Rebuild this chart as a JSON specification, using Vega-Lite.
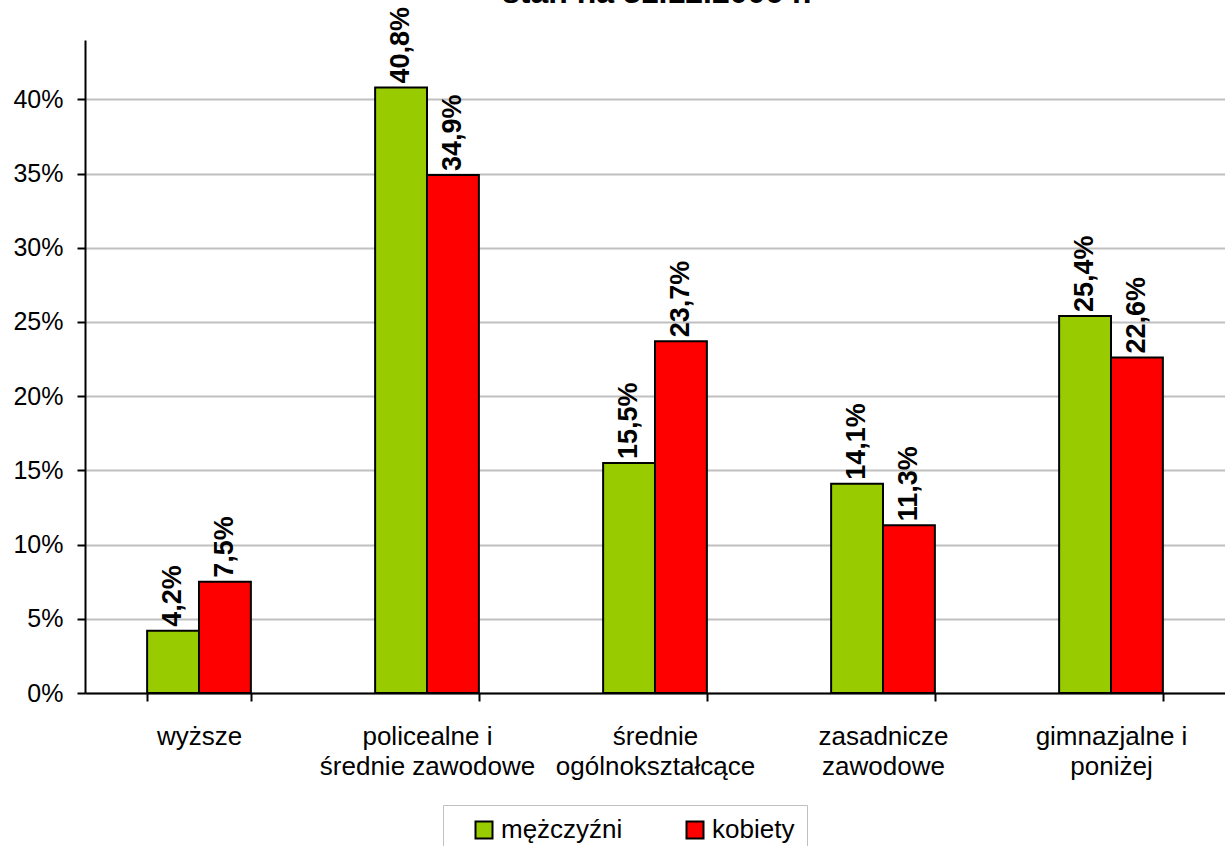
{
  "$schema": "https://vega.github.io/schema/vega-lite/v6.json",
  "width": 1140,
  "height": 653,
  "autosize": {"type": "none"},
  "padding": {"left": 85, "top": 40, "right": 0, "bottom": 153},
  "background": "white",
  "title": {
    "text": "- stan na 31.12.2006 r.",
    "font": "Liberation Sans",
    "fontSize": 32,
    "fontWeight": "bold",
    "color": "black",
    "anchor": "middle",
    "frame": "group",
    "baseline": "alphabetic",
    "offset": 0,
    "dy": 28,
    "dx": -8
  },
  "config": {
    "view": {"stroke": null},
    "font": "Liberation Sans",
    "locale": {"number": {"decimal": ",", "thousands": " ", "grouping": [3], "currency": ["", " zł"]}}
  },
  "data": {
    "values": [
      {"wyksztalcenie": "wyższe", "plec": "mężczyźni", "udzial": 0.042},
      {"wyksztalcenie": "wyższe", "plec": "kobiety", "udzial": 0.075},
      {"wyksztalcenie": "policealne i\nśrednie zawodowe", "plec": "mężczyźni", "udzial": 0.408},
      {"wyksztalcenie": "policealne i\nśrednie zawodowe", "plec": "kobiety", "udzial": 0.349},
      {"wyksztalcenie": "średnie\nogólnokształcące", "plec": "mężczyźni", "udzial": 0.155},
      {"wyksztalcenie": "średnie\nogólnokształcące", "plec": "kobiety", "udzial": 0.237},
      {"wyksztalcenie": "zasadnicze\nzawodowe", "plec": "mężczyźni", "udzial": 0.141},
      {"wyksztalcenie": "zasadnicze\nzawodowe", "plec": "kobiety", "udzial": 0.113},
      {"wyksztalcenie": "gimnazjalne i\nponiżej", "plec": "mężczyźni", "udzial": 0.254},
      {"wyksztalcenie": "gimnazjalne i\nponiżej", "plec": "kobiety", "udzial": 0.226}
    ]
  },
  "encoding": {
    "x": {
      "field": "wyksztalcenie",
      "type": "nominal",
      "sort": null,
      "scale": {"paddingInner": 0.545, "paddingOuter": 0.2725},
      "axis": {
        "title": null,
        "labelAngle": 0,
        "labelFontSize": 26,
        "labelColor": "black",
        "labelExpr": "split(datum.label, '\\n')",
        "labelLineHeight": 30,
        "labelPadding": 35,
        "labelBaseline": "middle",
        "labelLimit": 0,
        "tickBand": "extent",
        "tickSize": 8,
        "tickWidth": 2,
        "tickColor": "black",
        "domainColor": "black",
        "domainWidth": 2,
        "grid": false
      }
    },
    "xOffset": {
      "field": "plec",
      "type": "nominal",
      "sort": ["mężczyźni", "kobiety"],
      "scale": {"paddingInner": 0, "paddingOuter": 0}
    },
    "y": {
      "field": "udzial",
      "type": "quantitative",
      "scale": {"domain": [0, 0.44], "nice": false},
      "axis": {
        "title": null,
        "format": ".0%",
        "values": [0, 0.05, 0.1, 0.15, 0.2, 0.25, 0.3, 0.35, 0.4],
        "labelFontSize": 25,
        "labelColor": "black",
        "labelPadding": 14,
        "tickSize": 8,
        "tickWidth": 2,
        "tickColor": "black",
        "domainColor": "black",
        "domainWidth": 2,
        "gridColor": "#c0c0c0",
        "gridWidth": 2
      }
    }
  },
  "layer": [
    {
      "mark": {"type": "bar", "stroke": "black", "strokeWidth": 2},
      "encoding": {
        "color": {
          "field": "plec",
          "type": "nominal",
          "sort": ["mężczyźni", "kobiety"],
          "scale": {"domain": ["mężczyźni", "kobiety"], "range": ["#99cc00", "#ff0000"]},
          "legend": {
            "title": null,
            "orient": "none",
            "legendX": 358,
            "legendY": 765,
            "direction": "horizontal",
            "strokeColor": "#c0c0c0",
            "fillColor": "white",
            "padding": 12,
            "symbolType": "square",
            "symbolSize": 289,
            "symbolOffset": 16,
            "symbolStrokeColor": "black",
            "symbolStrokeWidth": 2,
            "symbolOpacity": 1,
            "labelFontSize": 26,
            "labelColor": "black",
            "labelOffset": 4,
            "columnPadding": 43,
            "offset": 0
          }
        }
      }
    },
    {
      "mark": {
        "type": "text",
        "angle": 270,
        "align": "left",
        "baseline": "middle",
        "dx": 4,
        "fontSize": 27,
        "fontWeight": "bold",
        "color": "black"
      },
      "encoding": {
        "text": {"field": "udzial", "type": "quantitative", "format": ".1%"}
      }
    }
  ]
}
